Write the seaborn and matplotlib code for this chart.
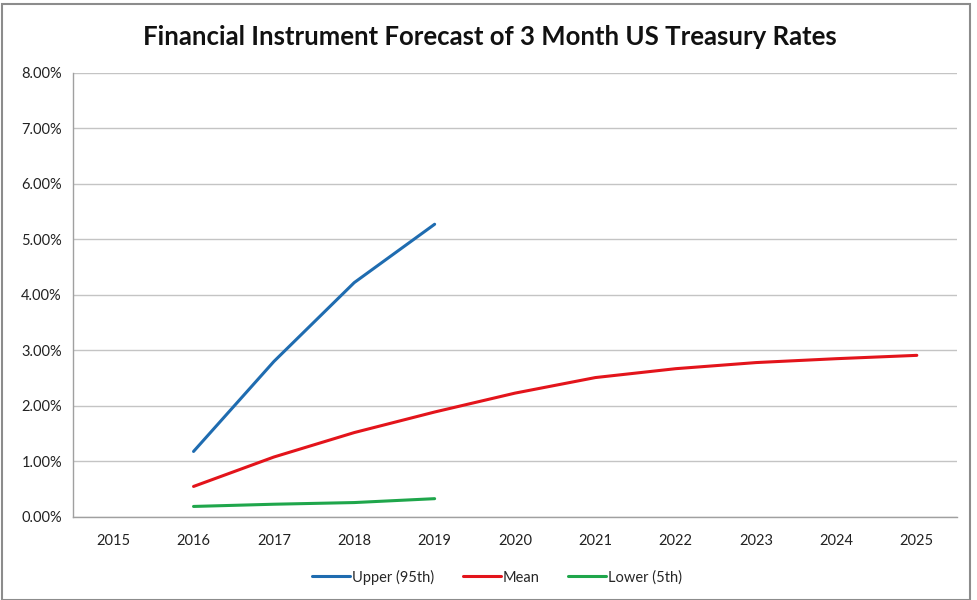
import matplotlib
matplotlib.use("Agg")
import matplotlib.pyplot as plt
import matplotlib.ticker as mticker
from matplotlib.patches import Rectangle
from matplotlib.lines import Line2D
import seaborn as sns
import pandas as pd

years = [2015, 2016, 2017, 2018, 2019, 2020, 2021, 2022, 2023, 2024, 2025]
upper_years = [2016, 2017, 2018, 2019]
upper = [1.18, 2.80, 4.22, 5.27]
mean_years = [2016, 2017, 2018, 2019, 2020, 2021, 2022, 2023, 2024, 2025]
mean = [0.55, 1.08, 1.52, 1.89, 2.23, 2.51, 2.67, 2.78, 2.85, 2.91]
lower_years = [2016, 2017, 2018, 2019]
lower = [0.19, 0.23, 0.26, 0.33]
series_names = ["Upper (95th)", "Mean", "Lower (5th)"]
colors = ["#1F6CB0", "#E3141B", "#1FA64B"]
title = "Financial Instrument Forecast of 3 Month US Treasury Rates"

rows = []
for name, xs, ys in zip(series_names, [upper_years, mean_years, lower_years], [upper, mean, lower]):
    for x, y in zip(xs, ys):
        rows.append({"Year": x, "Rate": y, "Series": name})
df = pd.DataFrame(rows)

sns.set_theme(style="white")
plt.rcParams["font.family"] = ["Lato", "DejaVu Sans"]

fig = plt.figure(figsize=(9.77, 6.0), dpi=100)
ax = fig.add_axes([73 / 977, 1 - 517 / 600, (957 - 73) / 977, (517 - 72.6) / 600])

sns.lineplot(data=df, x="Year", y="Rate", hue="Series", hue_order=series_names,
             palette=dict(zip(series_names, colors)), linewidth=2.2, ax=ax,
             legend=False, estimator=None, sort=False)

ax.set_xlim(years[0] - 0.5, years[-1] + 0.5)
ax.set_ylim(0, 8)
ax.set_xticks(years)
ax.set_xticklabels([str(y) for y in years])
ax.set_xticks([y - 0.5 for y in years] + [years[-1] + 0.5], minor=True)
ax.tick_params(axis="x", which="major", length=0, pad=12, labelsize=10.5, labelcolor="#222222")
ax.tick_params(axis="x", which="minor", length=5, width=1, color="#A0A0A0", direction="out")
ax.set_yticks(range(0, 9))
ax.yaxis.set_major_formatter(mticker.FuncFormatter(lambda v, p: f"{v:.2f}%"))
ax.tick_params(axis="y", which="major", length=5, width=1, color="#A0A0A0", direction="out",
               labelsize=10.5, labelcolor="#222222", pad=3)
ax.grid(axis="y", color="#C4C4C4", linewidth=1.0)
ax.grid(axis="x", visible=False)
ax.set_axisbelow(True)
for s in ["top", "right"]:
    ax.spines[s].set_visible(False)
for s in ["left", "bottom"]:
    ax.spines[s].set_color("#A0A0A0")
    ax.spines[s].set_linewidth(1.0)
ax.set_xlabel("")
ax.set_ylabel("")

fig.text(490 / 977, 1 - 37 / 600, title, ha="center", va="center",
         fontsize=18.5, fontweight="bold", color="#111111")

handles = [Line2D([0], [0], color=c, linewidth=2.2) for c in colors]
fig.legend(handles, series_names, loc="center", bbox_to_anchor=(497 / 977, 1 - 577 / 600),
           ncol=3, frameon=False, fontsize=10.5, handlelength=2.6, handletextpad=0.1,
           columnspacing=2.0)

fig.patches.append(Rectangle((2 / 977, 0.0), 968 / 977, 1 - 4 / 600, transform=fig.transFigure,
                             fill=False, edgecolor="#8C8C8C", linewidth=1.5))

fig.savefig("out.png", dpi=100)
